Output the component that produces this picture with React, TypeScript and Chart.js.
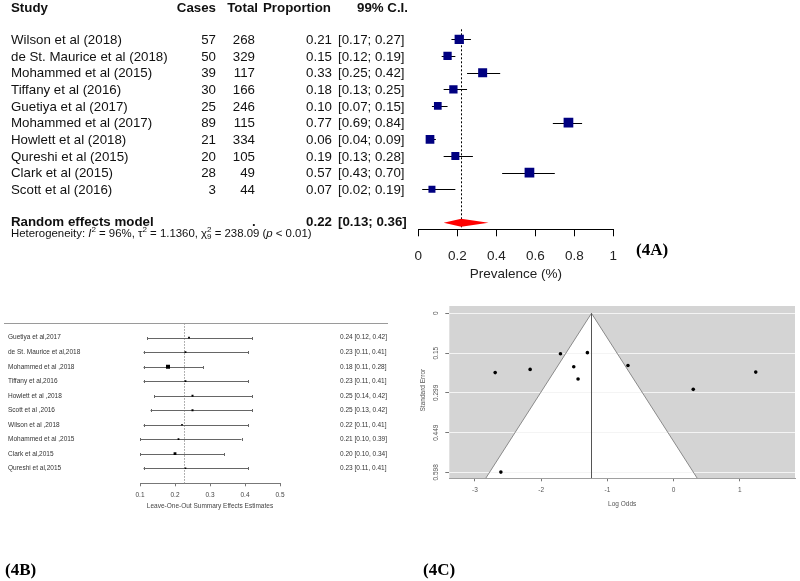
import React, { useEffect, useRef } from "react";
import { Chart, registerables } from "chart.js";
Chart.register(...registerables);

const FONT = "'Liberation Sans', Arial, sans-serif";
const SERIF = "'Liberation Serif', 'Times New Roman', serif";
Chart.defaults.font.family = FONT;

// ---------- Panel 4A data ----------
const studiesA = [
  "Wilson et al (2018)",
  "de St. Maurice et al (2018)",
  "Mohammed et al (2015)",
  "Tiffany et al (2016)",
  "Guetiya et al (2017)",
  "Mohammed et al (2017)",
  "Howlett et al (2018)",
  "Qureshi et al (2015)",
  "Clark et al (2015)",
  "Scott et al (2016)",
];
const casesA = [57, 50, 39, 30, 25, 89, 21, 20, 28, 3];
const totalsA = [268, 329, 117, 166, 246, 115, 334, 105, 49, 44];
const propA = [0.21, 0.15, 0.33, 0.18, 0.1, 0.77, 0.06, 0.19, 0.57, 0.07];
const lowA = [0.17, 0.12, 0.25, 0.13, 0.07, 0.69, 0.04, 0.13, 0.43, 0.02];
const highA = [0.27, 0.19, 0.42, 0.25, 0.15, 0.84, 0.09, 0.28, 0.7, 0.19];
const pooledEstA = 0.22;
const pooledLowA = 0.13;
const pooledHighA = 0.36;
const squareSideA = [9.3, 8.3, 9, 8.3, 7.7, 9.7, 8.7, 8, 9.7, 7];

// ---------- Panel 4B data ----------
const studiesB = [
  "Guetiya et al,2017",
  "de St. Maurice et al,2018",
  "Mohammed et al ,2018",
  "Tiffany et al,2016",
  "Howlett et al ,2018",
  "Scott et al ,2016",
  "Wilson et al ,2018",
  "Mohammed et al ,2015",
  "Clark et al,2015",
  "Qureshi et al,2015",
];
const estB = [0.24, 0.23, 0.18, 0.23, 0.25, 0.25, 0.22, 0.21, 0.2, 0.23];
const lowB = [0.12, 0.11, 0.11, 0.11, 0.14, 0.13, 0.11, 0.1, 0.1, 0.11];
const highB = [0.42, 0.41, 0.28, 0.41, 0.42, 0.42, 0.41, 0.39, 0.34, 0.41];
const pooledB = 0.225;
const squareSideB = [1.8, 1.8, 4, 1.8, 2, 2, 1.6, 1.8, 2.8, 1.6];

// ---------- Panel 4C data ----------
const logOddsC = [-2.695, -2.167, -1.709, -1.508, -1.443, -1.302, -0.689, 0.297, 1.241, -2.609];
const seC = [0.223, 0.211, 0.152, 0.201, 0.247, 0.148, 0.196, 0.286, 0.221, 0.597];
const yTicksC = [0, 0.15, 0.299, 0.449, 0.598];
const yTickLabelsC = ["0", "0.15", "0.299", "0.449", "0.598"];
const xTicksC = [-3, -2, -1, 0, 1];
const centerC = -1.24;
const zCritC = 2.576;

const crisp = (v: number) => Math.round(v) + 0.5;

function configA(): any {
  const plugin = {
    id: "forestA",
    beforeDatasetsDraw(chart: any) {
      const { ctx, chartArea } = chart;
      const x = chart.scales.x;
      const y = chart.scales.y;
      ctx.save();
      ctx.strokeStyle = "#000";
      ctx.lineWidth = 1;
      ctx.setLineDash([2, 2]);
      const px = crisp(x.getPixelForValue(pooledEstA));
      ctx.beginPath();
      ctx.moveTo(px, chartArea.top);
      ctx.lineTo(px, chartArea.bottom);
      ctx.stroke();
      ctx.setLineDash([]);
      propA.forEach((_, i) => {
        const py = crisp(y.getPixelForValue(i));
        ctx.beginPath();
        ctx.moveTo(x.getPixelForValue(lowA[i]), py);
        ctx.lineTo(x.getPixelForValue(highA[i]), py);
        ctx.stroke();
      });
      const dy = y.getPixelForValue(11);
      ctx.fillStyle = "#ff0000";
      ctx.beginPath();
      ctx.moveTo(x.getPixelForValue(pooledLowA), dy);
      ctx.lineTo(x.getPixelForValue(pooledEstA), dy - 4);
      ctx.lineTo(x.getPixelForValue(pooledHighA), dy);
      ctx.lineTo(x.getPixelForValue(pooledEstA), dy + 4);
      ctx.closePath();
      ctx.fill();
      ctx.restore();
    },
    afterDraw(chart: any) {
      const { ctx } = chart;
      const y = chart.scales.y;
      ctx.save();
      ctx.fillStyle = "#111";
      ctx.textBaseline = "middle";
      const bold = `bold 13.3px ${FONT}`;
      const reg = `13.3px ${FONT}`;
      ctx.font = bold;
      ctx.textAlign = "left";
      ctx.fillText("Study", 11, 8);
      ctx.textAlign = "right";
      ctx.fillText("Cases", 216, 8);
      ctx.fillText("Total", 258, 8);
      ctx.textAlign = "left";
      ctx.fillText("Proportion", 263, 8);
      ctx.fillText("99% C.I.", 357, 8);
      ctx.font = reg;
      studiesA.forEach((s, i) => {
        const py = y.getPixelForValue(i) + 1;
        ctx.textAlign = "left";
        ctx.fillText(s, 11, py);
        ctx.textAlign = "right";
        ctx.fillText(String(casesA[i]), 216, py);
        ctx.fillText(String(totalsA[i]), 255, py);
        ctx.fillText(propA[i].toFixed(2), 332, py);
        ctx.textAlign = "left";
        ctx.fillText(`[${lowA[i].toFixed(2)}; ${highA[i].toFixed(2)}]`, 338, py);
      });
      const ry = y.getPixelForValue(11);
      ctx.font = bold;
      ctx.textAlign = "left";
      ctx.fillText("Random effects model", 11, ry);
      ctx.fillText(".", 252, ry);
      ctx.textAlign = "right";
      ctx.fillText(pooledEstA.toFixed(2), 332, ry);
      ctx.textAlign = "left";
      ctx.fillText(`[${pooledLowA.toFixed(2)}; ${pooledHighA.toFixed(2)}]`, 338, ry);

      // heterogeneity line
      let hx = 11;
      const hy = ry + 11;
      const f = `11.4px ${FONT}`;
      const fi = `italic 11.4px ${FONT}`;
      const fs = `8px ${FONT}`;
      const seg = (t: string, font: string, d = 0, adv = true) => {
        ctx.font = font;
        ctx.fillText(t, hx, hy + d);
        const w = ctx.measureText(t).width;
        if (adv) hx += w;
        return w;
      };
      seg("Heterogeneity: ", f);
      seg("I", fi);
      seg("2", fs, -4);
      seg(" = 96%, ", f);
      seg("τ", f);
      seg("2", fs, -4);
      seg(" = 1.1360, ", f);
      seg("χ", f);
      seg("2", fs, -4, false);
      seg("9", fs, 3);
      seg(" = 238.09 (", f);
      seg("p", fi);
      seg(" < 0.01)", f);

      ctx.font = `bold 17px ${SERIF}`;
      ctx.fillStyle = "#000";
      ctx.fillText("(4A)", 636, 251);
      ctx.restore();
    },
  };
  return {
    type: "scatter",
    data: {
      datasets: [
        {
          data: propA.map((p, i) => ({ x: p, y: i })),
          pointStyle: "rect",
          pointRadius: squareSideA.map((s) => s / 1.414),
          backgroundColor: "#000080",
          borderColor: "#000080",
          borderWidth: 0,
        },
      ],
    },
    options: {
      responsive: false,
      animation: false,
      devicePixelRatio: 1,
      layout: { padding: { left: 418.3, right: 700 - 613.3, top: 29.3, bottom: 290 - 229.3 - 55 } },
      plugins: { legend: { display: false }, tooltip: { enabled: false } },
      scales: {
        x: {
          type: "linear",
          min: 0,
          max: 1,
          ticks: {
            stepSize: 0.2,
            color: "#222",
            font: { size: 13.5 },
            padding: 12,
            callback: (v: any) => String(Number(Number(v).toFixed(1))),
          },
          grid: { drawOnChartArea: false, drawTicks: true, tickLength: 7, color: "#000", tickColor: "#000" },
          border: { display: true, color: "#000", width: 1 },
          title: { display: true, text: "Prevalence (%)", color: "#222", font: { size: 13.5 }, padding: { top: 0, bottom: 2 } },
          afterFit: (s: any) => {
            s.height = 55;
          },
        },
        y: { type: "linear", min: -0.6, max: 11.4, reverse: true, display: false },
      },
    },
    plugins: [plugin],
  };
}

function configB(): any {
  const plugin = {
    id: "forestB",
    beforeDatasetsDraw(chart: any) {
      const { ctx, chartArea } = chart;
      const x = chart.scales.x;
      const y = chart.scales.y;
      ctx.save();
      ctx.lineWidth = 1;
      ctx.strokeStyle = "#9a9a9a";
      const ty = crisp(chartArea.top);
      ctx.beginPath();
      ctx.moveTo(4, ty);
      ctx.lineTo(388, ty);
      ctx.stroke();
      ctx.strokeStyle = "#999";
      ctx.setLineDash([1.5, 1.5]);
      const px = crisp(x.getPixelForValue(pooledB));
      ctx.beginPath();
      ctx.moveTo(px, chartArea.top);
      ctx.lineTo(px, chartArea.bottom);
      ctx.stroke();
      ctx.setLineDash([]);
      ctx.strokeStyle = "#666";
      estB.forEach((_, i) => {
        const py = crisp(y.getPixelForValue(i));
        const x1 = x.getPixelForValue(lowB[i]);
        const x2 = x.getPixelForValue(highB[i]);
        ctx.beginPath();
        ctx.moveTo(x1, py);
        ctx.lineTo(x2, py);
        ctx.moveTo(crisp(x1), py - 1.5);
        ctx.lineTo(crisp(x1), py + 1.5);
        ctx.moveTo(crisp(x2), py - 1.5);
        ctx.lineTo(crisp(x2), py + 1.5);
        ctx.stroke();
      });
      ctx.restore();
    },
    afterDraw(chart: any) {
      const { ctx } = chart;
      const y = chart.scales.y;
      ctx.save();
      ctx.fillStyle = "#333";
      ctx.textBaseline = "middle";
      ctx.font = `6.5px ${FONT}`;
      studiesB.forEach((s, i) => {
        const py = y.getPixelForValue(i);
        ctx.textAlign = "left";
        ctx.fillText(s, 8, py);
        ctx.fillText(`${estB[i].toFixed(2)} [${lowB[i].toFixed(2)}, ${highB[i].toFixed(2)}]`, 340, py);
      });
      ctx.font = `bold 17px ${SERIF}`;
      ctx.fillStyle = "#000";
      ctx.fillText("(4B)", 5, 271);
      ctx.restore();
    },
  };
  return {
    type: "scatter",
    data: {
      datasets: [
        {
          data: estB.map((p, i) => ({ x: p, y: i })),
          pointStyle: "rect",
          pointRadius: squareSideB.map((s) => s / 1.414),
          backgroundColor: "#000",
          borderWidth: 0,
        },
      ],
    },
    options: {
      responsive: false,
      animation: false,
      devicePixelRatio: 1,
      layout: { padding: { left: 140, right: 120, top: 23.2, bottom: 281 - 183.3 - 30 } },
      plugins: { legend: { display: false }, tooltip: { enabled: false } },
      scales: {
        x: {
          type: "linear",
          min: 0.1,
          max: 0.5,
          ticks: { stepSize: 0.1, color: "#444", font: { size: 6.5 }, padding: 4.8 },
          grid: { drawOnChartArea: false, drawTicks: true, tickLength: 3, color: "#777", tickColor: "#777" },
          border: { display: true, color: "#777", width: 1 },
          title: {
            display: true,
            text: "Leave-One-Out Summary Effects Estimates",
            color: "#444",
            font: { size: 6.5 },
            padding: { top: 0, bottom: 2.7 },
          },
          afterFit: (s: any) => {
            s.height = 30;
          },
        },
        y: { type: "linear", min: -1, max: 10.04, reverse: true, display: false },
      },
    },
    plugins: [plugin],
  };
}

function configC(): any {
  const plugin = {
    id: "funnelC",
    beforeDraw(chart: any) {
      const { ctx, chartArea } = chart;
      const x = chart.scales.x;
      const y = chart.scales.y;
      ctx.save();
      ctx.fillStyle = "#d4d4d4";
      ctx.fillRect(chartArea.left, chartArea.top, chartArea.right - chartArea.left, chartArea.bottom - chartArea.top);
      ctx.beginPath();
      ctx.rect(chartArea.left, chartArea.top, chartArea.right - chartArea.left, chartArea.bottom - chartArea.top);
      ctx.clip();
      const ymax = y.max;
      ctx.fillStyle = "#fff";
      ctx.beginPath();
      ctx.moveTo(x.getPixelForValue(centerC), y.getPixelForValue(0));
      ctx.lineTo(x.getPixelForValue(centerC - zCritC * ymax), y.getPixelForValue(ymax));
      ctx.lineTo(x.getPixelForValue(centerC + zCritC * ymax), y.getPixelForValue(ymax));
      ctx.closePath();
      ctx.fill();
      ctx.restore();
    },
    beforeDatasetsDraw(chart: any) {
      const { ctx, chartArea } = chart;
      const x = chart.scales.x;
      const y = chart.scales.y;
      const ymax = y.max;
      ctx.save();
      ctx.beginPath();
      ctx.rect(chartArea.left, chartArea.top, chartArea.right - chartArea.left, chartArea.bottom - chartArea.top);
      ctx.clip();
      ctx.lineWidth = 1;
      ctx.strokeStyle = "#8a8a8a";
      ctx.beginPath();
      ctx.moveTo(x.getPixelForValue(centerC - zCritC * ymax), y.getPixelForValue(ymax));
      ctx.lineTo(x.getPixelForValue(centerC), y.getPixelForValue(0));
      ctx.lineTo(x.getPixelForValue(centerC + zCritC * ymax), y.getPixelForValue(ymax));
      ctx.stroke();
      ctx.strokeStyle = "#555";
      const cx = crisp(x.getPixelForValue(centerC));
      ctx.beginPath();
      ctx.moveTo(cx, y.getPixelForValue(0));
      ctx.lineTo(cx, chartArea.bottom);
      ctx.stroke();
      ctx.restore();
    },
    afterDraw(chart: any) {
      const { ctx, chartArea } = chart;
      const y = chart.scales.y;
      ctx.save();
      ctx.fillStyle = "#555";
      ctx.font = `6.5px ${FONT}`;
      ctx.textAlign = "center";
      ctx.textBaseline = "middle";
      yTicksC.forEach((v, i) => {
        ctx.save();
        ctx.translate(46.7, y.getPixelForValue(v));
        ctx.rotate(-Math.PI / 2);
        ctx.fillText(yTickLabelsC[i], 0, 0);
        ctx.restore();
      });
      ctx.save();
      ctx.translate(33.3, (chartArea.top + chartArea.bottom) / 2 - 2);
      ctx.rotate(-Math.PI / 2);
      ctx.fillText("Standard Error", 0, 0);
      ctx.restore();
      ctx.font = `bold 17px ${SERIF}`;
      ctx.fillStyle = "#000";
      ctx.textAlign = "left";
      ctx.fillText("(4C)", 33, 281);
      ctx.restore();
    },
  };
  return {
    type: "scatter",
    data: {
      datasets: [
        {
          data: logOddsC.map((v, i) => ({ x: v, y: seC[i] })),
          pointStyle: "circle",
          pointRadius: 1.8,
          backgroundColor: "#000",
          borderWidth: 0,
        },
      ],
    },
    options: {
      responsive: false,
      animation: false,
      devicePixelRatio: 1,
      layout: { padding: { left: 59.3, right: 5, top: 16, bottom: 291 - 188.3 - 32 } },
      plugins: { legend: { display: false }, tooltip: { enabled: false } },
      scales: {
        x: {
          type: "linear",
          min: -3.388,
          max: 1.834,
          afterBuildTicks: (s: any) => {
            s.ticks = xTicksC.map((v) => ({ value: v }));
          },
          ticks: { color: "#555", font: { size: 6.5 }, padding: 4.8, callback: (v: any) => String(v) },
          grid: { drawOnChartArea: false, drawTicks: true, tickLength: 3, color: "#777", tickColor: "#777" },
          border: { display: true, color: "#a0a0a0", width: 1 },
          title: { display: true, text: "Log Odds", color: "#555", font: { size: 6.5 }, padding: { top: 0, bottom: 2.4 } },
          afterFit: (s: any) => {
            s.height = 32;
          },
        },
        y: {
          type: "linear",
          min: -0.0274,
          max: 0.6203,
          reverse: true,
          afterBuildTicks: (s: any) => {
            s.ticks = yTicksC.map((v) => ({ value: v }));
          },
          ticks: { display: false },
          grid: { drawOnChartArea: true, drawTicks: true, tickLength: 4, color: "#f4f4f4", tickColor: "#777", lineWidth: 1 },
          border: { display: false },
          afterFit: (s: any) => {
            s.width = 0;
          },
        },
      },
    },
    plugins: [plugin],
  };
}

export default function App() {
  const aRef = useRef<HTMLCanvasElement>(null);
  const bRef = useRef<HTMLCanvasElement>(null);
  const cRef = useRef<HTMLCanvasElement>(null);
  useEffect(() => {
    const charts = [
      new Chart(aRef.current!, configA()),
      new Chart(bRef.current!, configB()),
      new Chart(cRef.current!, configC()),
    ];
    return () => charts.forEach((c) => c.destroy());
  }, []);
  return (
    <div style={{ position: "absolute", left: 0, top: 0, width: 800, height: 581, background: "#fff", overflow: "hidden" }}>
      <canvas ref={aRef} width={700} height={290} style={{ position: "absolute", left: 0, top: 0, width: 700, height: 290 }} />
      <canvas ref={bRef} width={400} height={281} style={{ position: "absolute", left: 0, top: 300, width: 400, height: 281 }} />
      <canvas ref={cRef} width={410} height={291} style={{ position: "absolute", left: 390, top: 290, width: 410, height: 291 }} />
    </div>
  );
}
